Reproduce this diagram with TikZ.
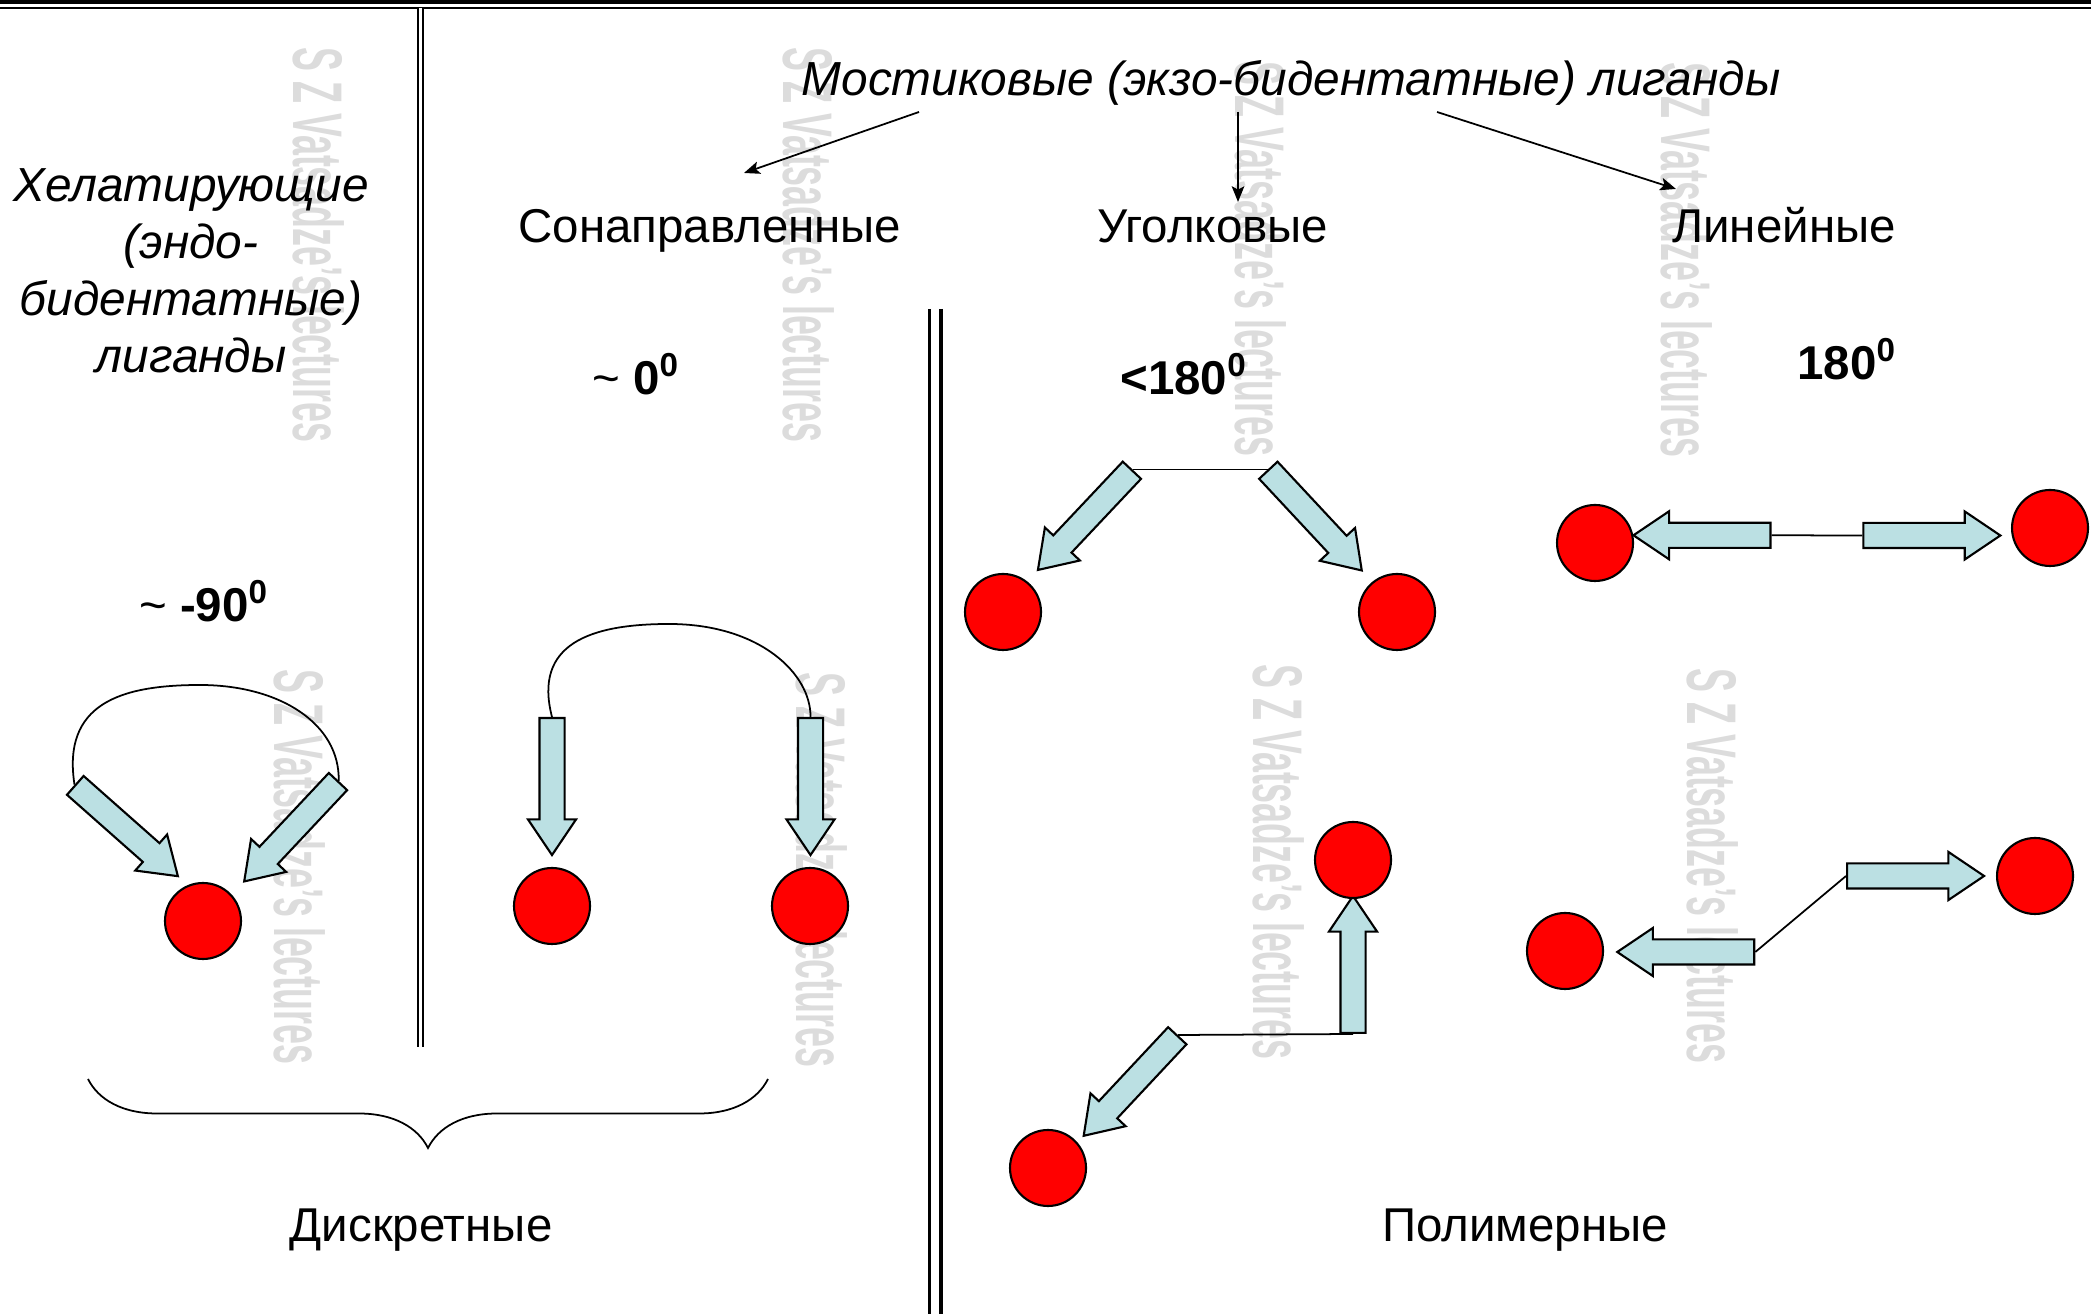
\documentclass[tikz,border=0pt]{standalone}
\usepackage{fontspec}
\usepackage{graphicx}
\setmainfont{Liberation Sans}
\usetikzlibrary{shapes.arrows,decorations.pathreplacing,arrows.meta}
\definecolor{ionred}{RGB}{255,0,0}
\definecolor{armblue}{RGB}{187,224,227}
\definecolor{wmgray}{RGB}{220,220,220}
\tikzset{
  metal/.style={circle, draw, fill=ionred, minimum size=0.76cm, inner sep=0pt, line width=0.6pt},
  donor/.style={single arrow, draw, fill=armblue, line width=0.6pt, minimum height=1.37cm,
    minimum width=0.46cm, single arrow head extend=0.115cm, single arrow tip angle=68,
    inner xsep=0pt, inner ysep=0.115cm, anchor=tail},
  lbl/.style={font=\fontsize{13.5}{16.2}\selectfont, inner sep=0pt},
  ilbl/.style={font=\fontsize{13.6}{16.2}\selectfont\itshape, inner sep=0pt},
  deg/.style={font=\fontsize{13.5}{16.2}\selectfont\bfseries, inner sep=0pt},
  wmark/.style={text=wmgray, rotate=-90, font=\fontsize{20}{20}\selectfont\bfseries, inner sep=0pt}
}
\begin{document}
\begin{tikzpicture}[>={Stealth[length=4.5pt,width=3.6pt,inset=1pt]}, line width=0.5pt]
    \useasboundingbox (0,0) rectangle (20.91,13.14);
    \foreach \wx/\wy [count=\i] in {3.19/10.69, 8.09/10.69, 12.61/10.55, 16.87/10.54, 3.00/4.47, 8.22/4.44, 12.79/4.52, 17.13/4.48}
        \node (wm\i) [wmark] at (\wx,\wy) {\scalebox{0.51}[1]{S Z Vatsadze's lectures}};

    \draw[line width=0.04cm] (0,13.12) -- (20.91,13.12);
    \draw[line width=0.026cm] (0,13.06) -- (20.91,13.06);
    \draw[double, line width=0.02cm, double distance=0.03cm] (4.20,13.06) -- (4.20,2.67);
    \draw[double, line width=0.035cm, double distance=0.08cm] (9.35,10.05) -- (9.35,0);

    \node (chel) [ilbl, align=center] at (1.91,10.43) {Хелатирующие\\(эндо-\\бидентатные)\\лиганды};
    \node (bridge) [ilbl, anchor=base] at (12.91,12.18) {Мостиковые (экзо-бидентатные) лиганды};
    \node (codir) [lbl, anchor=base] at (7.10,10.71) {Сонаправленные};
    \node (angular) [lbl, anchor=base] at (12.13,10.71) {Уголковые};
    \node (linear) [lbl, anchor=base] at (17.84,10.71) {Линейные};

    \coordinate (s1) at (9.19,12.02);
    \coordinate (t1) at (7.44,11.41);
    \coordinate (s2) at (12.38,12.02);
    \coordinate (t2) at (12.38,11.12);
    \coordinate (s3) at (14.37,12.02);
    \coordinate (t3) at (16.76,11.25);
    \draw[->] (s1) -- (t1);
    \draw[->] (s2) -- (t2);
    \draw[->] (s3) -- (t3);

    \node (deg0) [deg, anchor=base] at (6.36,9.19) {{\mdseries\textasciitilde} 0\textsuperscript{0}};
    \node (deg1) [deg, anchor=base] at (11.84,9.19) {<180\textsuperscript{0}};
    \node (deg2) [deg, anchor=base] at (18.47,9.34) {180\textsuperscript{0}};
    \node (deg3) [deg, anchor=base] at (2.04,6.92) {{\mdseries\textasciitilde} -90\textsuperscript{0}};

    \node (a1) [donor, rotate=-41.5] at (0.745,5.293) {};
    \node (a2) [donor, rotate=-133.2] at (3.387,5.332) {};
    \node (a3) [donor, rotate=-90] at (5.52,5.97) {};
    \node (a4) [donor, rotate=-90] at (8.105,5.97) {};
    \node (a5) [donor, rotate=-133.3] at (11.326,8.445) {};
    \node (a6) [donor, rotate=-47] at (12.676,8.445) {};
    \node (a7) [donor, rotate=180] at (17.715,7.787) {};
    \node (a8) [donor] at (18.623,7.785) {};
    \node (a9) [donor, rotate=90] at (13.53,2.80) {};
    \node (a10) [donor, rotate=-133.1] at (11.78,2.79) {};
    \node (a11) [donor, rotate=180] at (17.553,3.62) {};
    \node (a12) [donor] at (18.46,4.38) {};

    \node (m1) [metal] at (2.03,3.93) {};
    \node (m2) [metal] at (5.52,4.08) {};
    \node (m3) [metal] at (8.10,4.08) {};
    \node (m4) [metal] at (10.03,7.02) {};
    \node (m5) [metal] at (13.97,7.02) {};
    \node (m6) [metal] at (15.95,7.71) {};
    \node (m7) [metal] at (20.50,7.86) {};
    \node (m8) [metal] at (13.53,4.54) {};
    \node (m9) [metal] at (10.48,1.46) {};
    \node (m10) [metal] at (15.65,3.63) {};
    \node (m11) [metal] at (20.35,4.38) {};

    \draw (a1.tail) .. controls (0.62,6.1) and (1.2,6.29) .. (2.0,6.29)
        .. controls (2.8,6.29) and (3.4,5.9) .. (a2.tail);
    \draw (a3.tail) .. controls (5.33,6.7) and (5.9,6.9) .. (6.69,6.9)
        .. controls (7.6,6.9) and (8.11,6.4) .. (a4.tail);
    \draw (a5.tail) -- (a6.tail);
    \draw (a7.tail) -- (a8.tail);
    \draw (a10.tail) -- (a9.tail);
    \draw (a11.tail) -- (a12.tail);

    \draw[decorate, decoration={brace, mirror, amplitude=0.69cm}] (0.88,2.35) -- (7.68,2.35);
    \node (discr) [lbl, anchor=base] at (4.21,0.72) {Дискретные};
    \node (poly) [lbl, anchor=base] at (15.25,0.72) {Полимерные};
\end{tikzpicture}
\end{document}
